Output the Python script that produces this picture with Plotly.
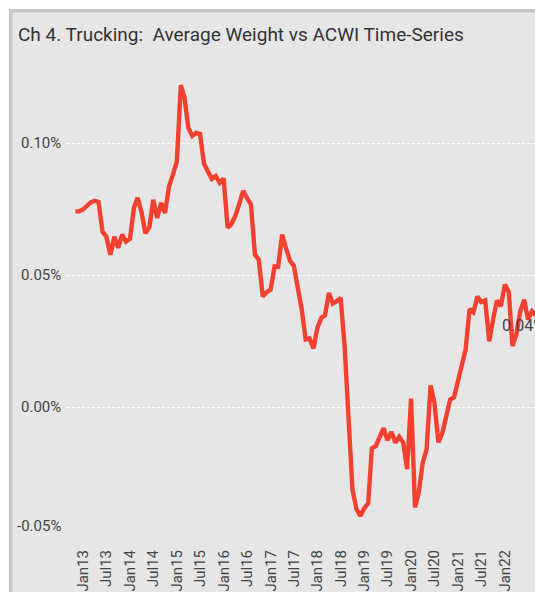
import pandas as pd
import plotly.graph_objects as go

# ---- data (monthly, month-end) ----
start_month = "2012-10-01"
n_points = 119
weights = [0.0742, 0.0742, 0.0750, 0.0763, 0.0776, 0.0782, 0.0778, 0.0665, 0.0646, 0.0578,
           0.0646, 0.0604, 0.0654, 0.0628, 0.0638, 0.0757, 0.0793, 0.0739, 0.0659, 0.0682,
           0.0786, 0.0717, 0.0774, 0.0736, 0.0836, 0.0880, 0.0930, 0.1220, 0.1175, 0.1058,
           0.1028, 0.1039, 0.1035, 0.0922, 0.0892, 0.0865, 0.0876, 0.0850, 0.0867, 0.0680,
           0.0693, 0.0725, 0.0769, 0.0820, 0.0793, 0.0767, 0.0578, 0.0559, 0.0420, 0.0436,
           0.0446, 0.0534, 0.0532, 0.0654, 0.0603, 0.0555, 0.0536, 0.0453, 0.0370, 0.0257,
           0.0261, 0.0223, 0.0302, 0.0340, 0.0348, 0.0433, 0.0393, 0.0402, 0.0414, 0.0232,
           -0.0020, -0.0310, -0.0385, -0.0411, -0.0382, -0.0363, -0.0155, -0.0147, -0.0113, -0.0079,
           -0.0125, -0.0093, -0.0134, -0.0111, -0.0134, -0.0234, 0.0033, -0.0379, -0.0322, -0.0209,
           -0.0159, 0.0083, 0.0018, -0.0133, -0.0096, -0.0038, 0.0030, 0.0038, 0.0102, 0.0174,
           0.0219, 0.0373, 0.0360, 0.0420, 0.0399, 0.0405, 0.0250, 0.0332, 0.0405, 0.0383,
           0.0465, 0.0436, 0.0232, 0.0276, 0.0364, 0.0408, 0.0332, 0.0364, 0.0348]

x_tick_vals = ["2013-01-01", "2013-07-01", "2014-01-01", "2014-07-01", "2015-01-01",
               "2015-07-01", "2016-01-01", "2016-07-01", "2017-01-01", "2017-07-01",
               "2018-01-01", "2018-07-01", "2019-01-01", "2019-07-01", "2020-01-01",
               "2020-07-01", "2021-01-01", "2021-07-01", "2022-01-01"]
x_tick_text = ["Jan13", "Jul13", "Jan14", "Jul14", "Jan15", "Jul15", "Jan16", "Jul16",
               "Jan17", "Jul17", "Jan18", "Jul18", "Jan19", "Jul19", "Jan20", "Jul20",
               "Jan21", "Jul21", "Jan22"]
y_tick_vals = [-0.05, 0.0, 0.05, 0.10]
y_tick_text = ["-0.05%", "0.00%", "0.05%", "0.10%"]
end_label = "0.04%"
title_text = "Ch 4. Trucking:  Average Weight vs ACWI Time-Series"

dates = (pd.date_range(start_month, periods=n_points, freq="MS") + pd.offsets.MonthEnd(0))
dates = [d.strftime("%Y-%m-%d") for d in dates]

# ---- layout geometry (pixels) ----
W, H = 535, 592
L, R, T, B = 67, 0, 60, 52
pw, ph = W - L - R, H - T - B

def px_x(p):
    return (p - L) / pw

def px_y(p):
    return (H - B - p) / ph

fig = go.Figure()
fig.add_trace(go.Scatter(
    x=dates, y=weights, mode="lines",
    line=dict(color="#F4402F", width=4.4),
    hoverinfo="skip", showlegend=False,
))

shapes = [
    dict(type="rect", xref="paper", yref="paper", x0=px_x(0), x1=px_x(9), y0=px_y(H), y1=px_y(0),
         fillcolor="white", line=dict(width=0), layer="below"),
    dict(type="rect", xref="paper", yref="paper", x0=px_x(0), x1=px_x(W), y0=px_y(9), y1=px_y(0),
         fillcolor="white", line=dict(width=0), layer="below"),
    dict(type="rect", xref="paper", yref="paper", x0=px_x(9), x1=px_x(12.5), y0=px_y(H), y1=px_y(9),
         fillcolor="#c8c8c8", line=dict(width=0), layer="below"),
    dict(type="rect", xref="paper", yref="paper", x0=px_x(9), x1=px_x(W), y0=px_y(12.5), y1=px_y(9),
         fillcolor="#c8c8c8", line=dict(width=0), layer="below"),
]

# y tick labels as text placed at each tick; the lowest one sits just above its gridline
y_label_annotations = []
for v, t in zip(y_tick_vals, y_tick_text):
    y_label_annotations.append(dict(
        text=t, xref="paper", x=px_x(L - 4), yref="y", y=v,
        xanchor="right", yanchor="middle", showarrow=False,
        yshift=13 if v == min(y_tick_vals) else 0,
        font=dict(family="Roboto", size=15, color="#444444"),
    ))

fig.update_layout(
    width=W, height=H,
    margin=dict(l=L, r=R, t=T, b=B, pad=0),
    paper_bgcolor="#e6e6e6",
    plot_bgcolor="rgba(0,0,0,0)",
    font=dict(family="Roboto", color="#444444"),
    title=dict(text=title_text, x=18 / W, xref="container", xanchor="left",
               y=1 - 34 / H, yref="container", yanchor="middle",
               font=dict(family="Roboto", size=19, color="#333333")),
    shapes=shapes,
    showlegend=False,
    xaxis=dict(
        type="date",
        range=["2012-08-27", "2022-08-23"],
        tickvals=x_tick_vals, ticktext=x_tick_text,
        tickangle=-90, ticks="", showgrid=False, zeroline=False, showline=False,
        tickfont=dict(family="Roboto", size=15, color="#444444"),
        ticklabelstandoff=6,
    ),
    yaxis=dict(
        range=[-0.0502, 0.1315],
        tickvals=y_tick_vals, showticklabels=False,
        ticks="", showgrid=True, gridcolor="white", gridwidth=1, griddash="3px,2px",
        zeroline=False, showline=False,
    ),
    annotations=y_label_annotations + [
        dict(text=end_label, xref="paper", x=px_x(500), yref="y", y=0.031,
             xanchor="left", yanchor="middle", showarrow=False,
             font=dict(family="Roboto", size=16, color="#444444"))],
)

fig.write_html(
    "out.html",
    config={"displayModeBar": False},
    post_script="document.body.style.margin='0px';document.body.style.overflow='hidden';",
)
